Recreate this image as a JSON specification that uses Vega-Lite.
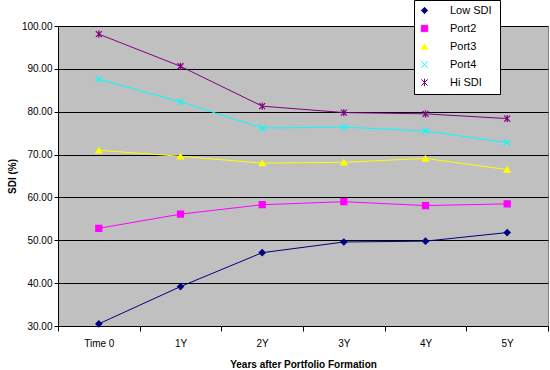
{
  "$schema": "https://vega.github.io/schema/vega-lite/v6.json",
  "width": 490,
  "height": 300,
  "autosize": {"type": "none"},
  "padding": {"left": 58, "top": 26, "right": 2, "bottom": 44},
  "background": "white",
  "config": {
    "view": {"fill": "#C0C0C0", "stroke": "#808080", "strokeWidth": 1},
    "font": "Liberation Sans",
    "legend": {
      "title": null, "orient": "none", "legendX": 356, "legendY": -26,
      "fillColor": "white", "strokeColor": "black", "padding": 5,
      "labelFontSize": 11, "labelColor": "black", "symbolSize": 40,
      "symbolOffset": 0, "labelOffset": 20, "rowPadding": 6, "symbolStrokeWidth": 1
    }
  },
  "data": {
    "values": [
      {"t": "Time 0", "s": "Low  SDI", "v": 30.5},
      {"t": "1Y", "s": "Low  SDI", "v": 39.2},
      {"t": "2Y", "s": "Low  SDI", "v": 47.1},
      {"t": "3Y", "s": "Low  SDI", "v": 49.6},
      {"t": "4Y", "s": "Low  SDI", "v": 49.8},
      {"t": "5Y", "s": "Low  SDI", "v": 51.8},
      {"t": "Time 0", "s": "Port2", "v": 52.8},
      {"t": "1Y", "s": "Port2", "v": 56.1},
      {"t": "2Y", "s": "Port2", "v": 58.3},
      {"t": "3Y", "s": "Port2", "v": 59.0},
      {"t": "4Y", "s": "Port2", "v": 58.1},
      {"t": "5Y", "s": "Port2", "v": 58.5},
      {"t": "Time 0", "s": "Port3", "v": 71.0},
      {"t": "1Y", "s": "Port3", "v": 69.6},
      {"t": "2Y", "s": "Port3", "v": 68.0},
      {"t": "3Y", "s": "Port3", "v": 68.2},
      {"t": "4Y", "s": "Port3", "v": 69.1},
      {"t": "5Y", "s": "Port3", "v": 66.5},
      {"t": "Time 0", "s": "Port4", "v": 87.6},
      {"t": "1Y", "s": "Port4", "v": 82.3},
      {"t": "2Y", "s": "Port4", "v": 76.2},
      {"t": "3Y", "s": "Port4", "v": 76.4},
      {"t": "4Y", "s": "Port4", "v": 75.5},
      {"t": "5Y", "s": "Port4", "v": 72.8},
      {"t": "Time 0", "s": "Hi SDI", "v": 98.1},
      {"t": "1Y", "s": "Hi SDI", "v": 90.6},
      {"t": "2Y", "s": "Hi SDI", "v": 81.3},
      {"t": "3Y", "s": "Hi SDI", "v": 79.8},
      {"t": "4Y", "s": "Hi SDI", "v": 79.5},
      {"t": "5Y", "s": "Hi SDI", "v": 78.4}
    ]
  },
  "encoding": {
    "x": {
      "field": "t", "type": "ordinal",
      "sort": ["Time 0", "1Y", "2Y", "3Y", "4Y", "5Y"],
      "scale": {"type": "band", "paddingInner": 0, "paddingOuter": 0},
      "axis": {
        "title": "Years after Portfolio Formation", "labelAngle": 0, "tickBand": "extent",
        "domainColor": "black", "tickColor": "black", "tickSize": 5, "labelPadding": 7,
        "labelFontSize": 10, "labelColor": "black", "titleFontSize": 10,
        "titleFontWeight": "bold", "titleColor": "black", "titlePadding": 11, "grid": false
      }
    },
    "y": {
      "field": "v", "type": "quantitative",
      "scale": {"domain": [30, 100], "nice": false, "zero": false},
      "axis": {
        "title": "SDI (%)", "values": [30, 40, 50, 60, 70, 80, 90, 100], "format": ".2f",
        "grid": true, "gridColor": "black", "gridWidth": 1, "gridOpacity": 1,
        "domainColor": "black", "tickColor": "black", "tickSize": 4,
        "labelFontSize": 10, "labelColor": "black", "titleFontSize": 10,
        "titleFontWeight": "bold", "titleColor": "black",
        "titleX": -46, "titleY": 150, "titleAngle": -90, "titleAlign": "center", "titleBaseline": "middle"
      }
    },
    "color": {
      "field": "s", "type": "nominal",
      "scale": {
        "domain": ["Low  SDI", "Port2", "Port3", "Port4", "Hi SDI"],
        "range": ["#000080", "#FF00FF", "#FFFF00", "#00FFFF", "#800080"]
      }
    }
  },
  "layer": [
    {"mark": {"type": "line", "strokeWidth": 1}},
    {
      "mark": {"type": "point", "filled": true, "opacity": 1, "size": 36, "strokeWidth": 1.2},
      "encoding": {
        "shape": {
          "field": "s", "type": "nominal",
          "scale": {
            "domain": ["Low  SDI", "Port2", "Port3", "Port4", "Hi SDI"],
            "range": ["diamond", "square", "triangle-up", "M-1,-1L1,1M-1,1L1,-1", "M-1,-1L1,1M-1,1L1,-1M0,-1.2L0,1.2"]
          }
        },
        "stroke": {
          "field": "s", "type": "nominal",
          "scale": {
            "domain": ["Low  SDI", "Port2", "Port3", "Port4", "Hi SDI"],
            "range": ["#000080", "#FF00FF", "#FFFF00", "#00FFFF", "#800080"]
          }
        }
      }
    }
  ]
}
